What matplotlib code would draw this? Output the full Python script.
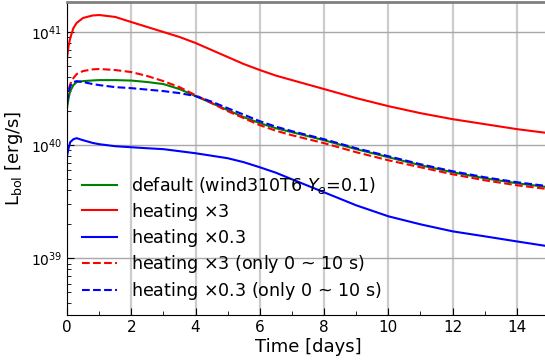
import matplotlib
matplotlib.use('Agg')
import matplotlib.pyplot as plt
import numpy as np

# time grid [days]
t = [0, 0.05, 0.1, 0.2, 0.3, 0.5, 0.8, 1.0, 1.5, 2, 2.5, 3, 3.5, 4, 4.5, 5, 5.5, 6, 6.5, 7, 8, 9, 10, 11, 12,
     13, 14, 15]

# log10 L_bol [erg/s]
log_default = [40.327, 40.416, 40.478, 40.531, 40.558, 40.566, 40.572, 40.575, 40.575, 40.571, 40.558, 40.540,
               40.496, 40.434, 40.372, 40.310, 40.248, 40.195, 40.150, 40.115, 40.044, 39.965, 39.894, 39.823,
               39.761, 39.708, 39.664, 39.628]
log_heat3 = [40.770, 40.876, 40.947, 41.035, 41.080, 41.124, 41.146, 41.150, 41.133, 41.088, 41.044, 41.000,
             40.956, 40.903, 40.841, 40.779, 40.717, 40.664, 40.615, 40.575, 40.496, 40.416, 40.345, 40.283,
             40.230, 40.186, 40.142, 40.106]
log_heat03 = [39.903, 39.973, 40.027, 40.053, 40.062, 40.044, 40.020, 40.009, 39.991, 39.982, 39.973, 39.965,
              39.947, 39.929, 39.907, 39.885, 39.850, 39.805, 39.757, 39.699, 39.584, 39.469, 39.372, 39.301,
              39.239, 39.195, 39.150, 39.106]
log_heat3_10s = [40.398, 40.487, 40.540, 40.593, 40.628, 40.655, 40.670, 40.673, 40.664, 40.646, 40.611, 40.566,
                 40.513, 40.442, 40.372, 40.301, 40.239, 40.177, 40.128, 40.088, 40.018, 39.938, 39.867, 39.805,
                 39.743, 39.690, 39.646, 39.611]
log_heat03_10s = [40.381, 40.469, 40.522, 40.558, 40.566, 40.558, 40.540, 40.531, 40.513, 40.504, 40.491, 40.478,
                  40.460, 40.434, 40.385, 40.327, 40.270, 40.212, 40.164, 40.124, 40.053, 39.973, 39.903, 39.832,
                  39.770, 39.717, 39.673, 39.637]

series = [
    (log_default, 'green', '-', r'default (wind310T6 $Y_e$=0.1)'),
    (log_heat3, 'red', '-', r'heating $\times$3'),
    (log_heat03, 'blue', '-', r'heating $\times$0.3'),
    (log_heat3_10s, 'red', '--', r'heating $\times$3 (only 0 ~ 10 s)'),
    (log_heat03_10s, 'blue', '--', r'heating $\times$0.3 (only 0 ~ 10 s)'),
]

fig = plt.figure(figsize=(5.45, 3.63), dpi=100)
ax = fig.add_axes([67 / 545, 48 / 363, 482 / 545, 313 / 363])

for logL, c, ls, lab in series:
    ax.plot(t, 10 ** np.array(logL), color=c, ls=ls, lw=1.5, label=lab)

ax.set_yscale('log')
ax.set_xlim(0, 15)
ax.set_ylim(10 ** 38.5, 10 ** 41.265)
ax.set_xticks([0, 2, 4, 6, 8, 10, 12, 14])
ax.set_xticks(np.arange(1, 15, 2), minor=True)
ax.xaxis.grid(True, which='major', color='#cccccc', lw=1.6)
ax.yaxis.grid(True, which='major', color='#a8a8a8', lw=1)
ax.set_axisbelow(True)
ax.tick_params(which='both', direction='in', labelsize=11)
ax.tick_params(which='major', length=5)
ax.tick_params(which='minor', length=3)
ax.tick_params(axis='y', labelsize=10)
ax.spines['top'].set_color('#808080')
ax.spines['top'].set_linewidth(2)

ax.set_xlabel('Time [days]', fontsize=13, labelpad=2)
ax.set_ylabel(r'L$_{\rm bol}$ [erg/s]', fontsize=13, labelpad=4)

ax.legend(loc='lower left', bbox_to_anchor=(0.008, 0.006), frameon=False, fontsize=12.6,
          handlelength=2.0, borderaxespad=0.25, labelspacing=0.25)

fig.savefig('out.png', dpi=100)
